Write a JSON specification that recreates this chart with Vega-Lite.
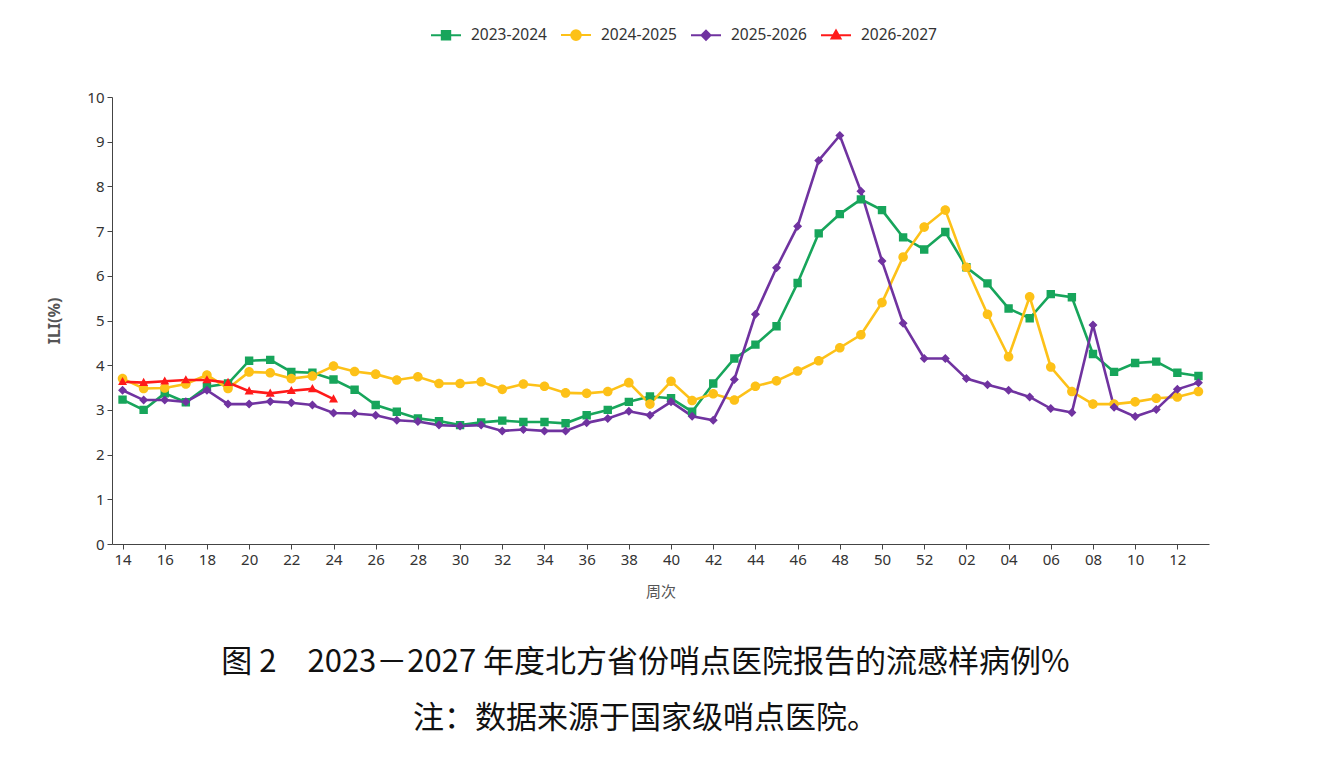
{
  "$schema": "https://vega.github.io/schema/vega-lite/v6.json",
  "autosize": {"type": "none"},
  "padding": {"left": 112, "top": 97, "right": 111, "bottom": 225},
  "width": 1097,
  "height": 447,
  "background": "white",
  "config": {
    "view": {"stroke": null},
    "font": "Noto Sans",
    "axis": {"grid": false, "domainColor": "#444", "tickColor": "#444", "labelColor": "#333", "labelFont": "Noto Sans", "labelFontSize": 15, "titleFont": "Noto Sans CJK SC", "titleColor": "#555"}
  },
  "title": {
    "text": ["图 2　2023－2027 年度北方省份哨点医院报告的流感样病例%", "注：数据来源于国家级哨点医院。"],
    "orient": "bottom",
    "anchor": "middle",
    "dx": -15,
    "offset": 49,
    "font": "Noto Sans CJK SC",
    "fontSize": 31,
    "fontWeight": "normal",
    "lineHeight": 56,
    "color": "#111"
  },
  "data": {
    "values": [
      {"season": "2023-2024", "week": "14", "ili": 3.23}, {"season": "2023-2024", "week": "15", "ili": 3.00}, {"season": "2023-2024", "week": "16", "ili": 3.37}, {"season": "2023-2024", "week": "17", "ili": 3.17}, {"season": "2023-2024", "week": "18", "ili": 3.52}, {"season": "2023-2024", "week": "19", "ili": 3.59}, {"season": "2023-2024", "week": "20", "ili": 4.10}, {"season": "2023-2024", "week": "21", "ili": 4.12}, {"season": "2023-2024", "week": "22", "ili": 3.85}, {"season": "2023-2024", "week": "23", "ili": 3.83}, {"season": "2023-2024", "week": "24", "ili": 3.68}, {"season": "2023-2024", "week": "25", "ili": 3.45}, {"season": "2023-2024", "week": "26", "ili": 3.11}, {"season": "2023-2024", "week": "27", "ili": 2.96}, {"season": "2023-2024", "week": "28", "ili": 2.81}, {"season": "2023-2024", "week": "29", "ili": 2.75}, {"season": "2023-2024", "week": "30", "ili": 2.66}, {"season": "2023-2024", "week": "31", "ili": 2.72}, {"season": "2023-2024", "week": "32", "ili": 2.76}, {"season": "2023-2024", "week": "33", "ili": 2.73}, {"season": "2023-2024", "week": "34", "ili": 2.73}, {"season": "2023-2024", "week": "35", "ili": 2.70}, {"season": "2023-2024", "week": "36", "ili": 2.88}, {"season": "2023-2024", "week": "37", "ili": 3.00}, {"season": "2023-2024", "week": "38", "ili": 3.18}, {"season": "2023-2024", "week": "39", "ili": 3.30}, {"season": "2023-2024", "week": "40", "ili": 3.26}, {"season": "2023-2024", "week": "41", "ili": 2.96}, {"season": "2023-2024", "week": "42", "ili": 3.59}, {"season": "2023-2024", "week": "43", "ili": 4.15}, {"season": "2023-2024", "week": "44", "ili": 4.46}, {"season": "2023-2024", "week": "45", "ili": 4.87}, {"season": "2023-2024", "week": "46", "ili": 5.84}, {"season": "2023-2024", "week": "47", "ili": 6.95}, {"season": "2023-2024", "week": "48", "ili": 7.38}, {"season": "2023-2024", "week": "49", "ili": 7.71}, {"season": "2023-2024", "week": "50", "ili": 7.47}, {"season": "2023-2024", "week": "51", "ili": 6.86}, {"season": "2023-2024", "week": "52", "ili": 6.59}, {"season": "2023-2024", "week": "01", "ili": 6.98}, {"season": "2023-2024", "week": "02", "ili": 6.19}, {"season": "2023-2024", "week": "03", "ili": 5.83}, {"season": "2023-2024", "week": "04", "ili": 5.27}, {"season": "2023-2024", "week": "05", "ili": 5.05}, {"season": "2023-2024", "week": "06", "ili": 5.59}, {"season": "2023-2024", "week": "07", "ili": 5.52}, {"season": "2023-2024", "week": "08", "ili": 4.25}, {"season": "2023-2024", "week": "09", "ili": 3.85}, {"season": "2023-2024", "week": "10", "ili": 4.05}, {"season": "2023-2024", "week": "11", "ili": 4.08}, {"season": "2023-2024", "week": "12", "ili": 3.83}, {"season": "2023-2024", "week": "13", "ili": 3.76},
      {"season": "2024-2025", "week": "14", "ili": 3.70}, {"season": "2024-2025", "week": "15", "ili": 3.48}, {"season": "2024-2025", "week": "16", "ili": 3.49}, {"season": "2024-2025", "week": "17", "ili": 3.58}, {"season": "2024-2025", "week": "18", "ili": 3.78}, {"season": "2024-2025", "week": "19", "ili": 3.48}, {"season": "2024-2025", "week": "20", "ili": 3.85}, {"season": "2024-2025", "week": "21", "ili": 3.83}, {"season": "2024-2025", "week": "22", "ili": 3.70}, {"season": "2024-2025", "week": "23", "ili": 3.76}, {"season": "2024-2025", "week": "24", "ili": 3.98}, {"season": "2024-2025", "week": "25", "ili": 3.86}, {"season": "2024-2025", "week": "26", "ili": 3.80}, {"season": "2024-2025", "week": "27", "ili": 3.67}, {"season": "2024-2025", "week": "28", "ili": 3.74}, {"season": "2024-2025", "week": "29", "ili": 3.59}, {"season": "2024-2025", "week": "30", "ili": 3.59}, {"season": "2024-2025", "week": "31", "ili": 3.63}, {"season": "2024-2025", "week": "32", "ili": 3.46}, {"season": "2024-2025", "week": "33", "ili": 3.58}, {"season": "2024-2025", "week": "34", "ili": 3.53}, {"season": "2024-2025", "week": "35", "ili": 3.38}, {"season": "2024-2025", "week": "36", "ili": 3.37}, {"season": "2024-2025", "week": "37", "ili": 3.41}, {"season": "2024-2025", "week": "38", "ili": 3.61}, {"season": "2024-2025", "week": "39", "ili": 3.13}, {"season": "2024-2025", "week": "40", "ili": 3.64}, {"season": "2024-2025", "week": "41", "ili": 3.21}, {"season": "2024-2025", "week": "42", "ili": 3.36}, {"season": "2024-2025", "week": "43", "ili": 3.22}, {"season": "2024-2025", "week": "44", "ili": 3.53}, {"season": "2024-2025", "week": "45", "ili": 3.65}, {"season": "2024-2025", "week": "46", "ili": 3.87}, {"season": "2024-2025", "week": "47", "ili": 4.10}, {"season": "2024-2025", "week": "48", "ili": 4.39}, {"season": "2024-2025", "week": "49", "ili": 4.68}, {"season": "2024-2025", "week": "50", "ili": 5.40}, {"season": "2024-2025", "week": "51", "ili": 6.42}, {"season": "2024-2025", "week": "52", "ili": 7.09}, {"season": "2024-2025", "week": "01", "ili": 7.47}, {"season": "2024-2025", "week": "02", "ili": 6.19}, {"season": "2024-2025", "week": "03", "ili": 5.14}, {"season": "2024-2025", "week": "04", "ili": 4.19}, {"season": "2024-2025", "week": "05", "ili": 5.53}, {"season": "2024-2025", "week": "06", "ili": 3.96}, {"season": "2024-2025", "week": "07", "ili": 3.41}, {"season": "2024-2025", "week": "08", "ili": 3.13}, {"season": "2024-2025", "week": "09", "ili": 3.13}, {"season": "2024-2025", "week": "10", "ili": 3.18}, {"season": "2024-2025", "week": "11", "ili": 3.26}, {"season": "2024-2025", "week": "12", "ili": 3.29}, {"season": "2024-2025", "week": "13", "ili": 3.41},
      {"season": "2025-2026", "week": "14", "ili": 3.44}, {"season": "2025-2026", "week": "15", "ili": 3.22}, {"season": "2025-2026", "week": "16", "ili": 3.22}, {"season": "2025-2026", "week": "17", "ili": 3.18}, {"season": "2025-2026", "week": "18", "ili": 3.44}, {"season": "2025-2026", "week": "19", "ili": 3.13}, {"season": "2025-2026", "week": "20", "ili": 3.13}, {"season": "2025-2026", "week": "21", "ili": 3.19}, {"season": "2025-2026", "week": "22", "ili": 3.16}, {"season": "2025-2026", "week": "23", "ili": 3.11}, {"season": "2025-2026", "week": "24", "ili": 2.93}, {"season": "2025-2026", "week": "25", "ili": 2.92}, {"season": "2025-2026", "week": "26", "ili": 2.88}, {"season": "2025-2026", "week": "27", "ili": 2.77}, {"season": "2025-2026", "week": "28", "ili": 2.74}, {"season": "2025-2026", "week": "29", "ili": 2.66}, {"season": "2025-2026", "week": "30", "ili": 2.64}, {"season": "2025-2026", "week": "31", "ili": 2.66}, {"season": "2025-2026", "week": "32", "ili": 2.53}, {"season": "2025-2026", "week": "33", "ili": 2.56}, {"season": "2025-2026", "week": "34", "ili": 2.53}, {"season": "2025-2026", "week": "35", "ili": 2.53}, {"season": "2025-2026", "week": "36", "ili": 2.71}, {"season": "2025-2026", "week": "37", "ili": 2.81}, {"season": "2025-2026", "week": "38", "ili": 2.97}, {"season": "2025-2026", "week": "39", "ili": 2.88}, {"season": "2025-2026", "week": "40", "ili": 3.18}, {"season": "2025-2026", "week": "41", "ili": 2.86}, {"season": "2025-2026", "week": "42", "ili": 2.77}, {"season": "2025-2026", "week": "43", "ili": 3.68}, {"season": "2025-2026", "week": "44", "ili": 5.14}, {"season": "2025-2026", "week": "45", "ili": 6.18}, {"season": "2025-2026", "week": "46", "ili": 7.11}, {"season": "2025-2026", "week": "47", "ili": 8.58}, {"season": "2025-2026", "week": "48", "ili": 9.14}, {"season": "2025-2026", "week": "49", "ili": 7.89}, {"season": "2025-2026", "week": "50", "ili": 6.33}, {"season": "2025-2026", "week": "51", "ili": 4.94}, {"season": "2025-2026", "week": "52", "ili": 4.15}, {"season": "2025-2026", "week": "01", "ili": 4.15}, {"season": "2025-2026", "week": "02", "ili": 3.70}, {"season": "2025-2026", "week": "03", "ili": 3.56}, {"season": "2025-2026", "week": "04", "ili": 3.44}, {"season": "2025-2026", "week": "05", "ili": 3.29}, {"season": "2025-2026", "week": "06", "ili": 3.03}, {"season": "2025-2026", "week": "07", "ili": 2.94}, {"season": "2025-2026", "week": "08", "ili": 4.90}, {"season": "2025-2026", "week": "09", "ili": 3.06}, {"season": "2025-2026", "week": "10", "ili": 2.85}, {"season": "2025-2026", "week": "11", "ili": 3.01}, {"season": "2025-2026", "week": "12", "ili": 3.46}, {"season": "2025-2026", "week": "13", "ili": 3.61},
      {"season": "2026-2027", "week": "14", "ili": 3.63}, {"season": "2026-2027", "week": "15", "ili": 3.61}, {"season": "2026-2027", "week": "16", "ili": 3.64}, {"season": "2026-2027", "week": "17", "ili": 3.67}, {"season": "2026-2027", "week": "18", "ili": 3.67}, {"season": "2026-2027", "week": "19", "ili": 3.61}, {"season": "2026-2027", "week": "20", "ili": 3.42}, {"season": "2026-2027", "week": "21", "ili": 3.37}, {"season": "2026-2027", "week": "22", "ili": 3.43}, {"season": "2026-2027", "week": "23", "ili": 3.47}, {"season": "2026-2027", "week": "24", "ili": 3.24}
    ]
  },
  "encoding": {
    "x": {
      "field": "week",
      "type": "ordinal",
      "sort": null,
      "scale": {"type": "point", "padding": 0.5, "domain": ["14","15","16","17","18","19","20","21","22","23","24","25","26","27","28","29","30","31","32","33","34","35","36","37","38","39","40","41","42","43","44","45","46","47","48","49","50","51","52","01","02","03","04","05","06","07","08","09","10","11","12","13"]},
      "axis": {
        "title": "周次",
        "titleFontSize": 15,
        "titleFontWeight": "normal",
        "titlePadding": 17,
        "labelAngle": 0,
        "tickSize": 5,
        "labelPadding": 3,
        "values": ["14","16","18","20","22","24","26","28","30","32","34","36","38","40","42","44","46","48","50","52","02","04","06","08","10","12"]
      }
    },
    "y": {
      "field": "ili",
      "type": "quantitative",
      "scale": {"domain": [0, 10], "nice": false},
      "axis": {
        "title": "ILI(%)",
        "titleFontSize": 16,
        "titleFontWeight": "bold",
        "titleFont": "Noto Sans",
        "titlePadding": 24,
        "tickSize": 5,
        "labelPadding": 3,
        "values": [0,1,2,3,4,5,6,7,8,9,10]
      }
    }
  },
  "layer": [
    {
      "description": "Legend carrier: no marks drawn, it only defines the line-and-marker legend symbols.",
      "transform": [{"filter": "false"}],
      "mark": {"type": "point", "filled": true, "strokeWidth": 2, "opacity": 1},
      "encoding": {
        "color": {
          "field": "season",
          "type": "nominal",
          "scale": {"domain": ["2023-2024","2024-2025","2025-2026","2026-2027"], "range": ["#17A55B","#FDC118","#7033A0","#FF1A1A"]},
          "legend": {
            "title": null,
            "orient": "none",
            "direction": "horizontal",
            "legendX": 318,
            "legendY": -78,
            "symbolSize": 900,
            "symbolStrokeWidth": 2,
            "labelFont": "Noto Sans",
            "labelFontSize": 15.5,
            "labelColor": "#333",
            "labelOffset": 9,
            "columnPadding": 10
          }
        },
        "stroke": {
          "field": "season",
          "type": "nominal",
          "scale": {"domain": ["2023-2024","2024-2025","2025-2026","2026-2027"], "range": ["#17A55B","#FDC118","#7033A0","#FF1A1A"]}
        },
        "shape": {
          "field": "season",
          "type": "nominal",
          "scale": {"domain": ["2023-2024","2024-2025","2025-2026","2026-2027"], "range": ["M-1,0H1M-0.28,-0.28H0.28V0.28H-0.28Z", "M-1,0H1M0.32,0A0.32,0.32,0,1,1,-0.32,0A0.32,0.32,0,1,1,0.32,0Z", "M-1,0H1M0,-0.3L0.3,0L0,0.3L-0.3,0Z", "M-1,0H1M0,-0.32L0.3,0.22L-0.3,0.22Z"]}
        }
      }
    },
    {
      "mark": {"type": "line", "strokeWidth": 2.6},
      "encoding": {
        "stroke": {"field": "season", "type": "nominal"}
      }
    },
    {
      "mark": {"type": "point", "filled": true, "opacity": 1, "size": 900},
      "encoding": {
        "color": {"field": "season", "type": "nominal"},
        "shape": {"field": "season", "type": "nominal"}
      }
    }
  ]
}
